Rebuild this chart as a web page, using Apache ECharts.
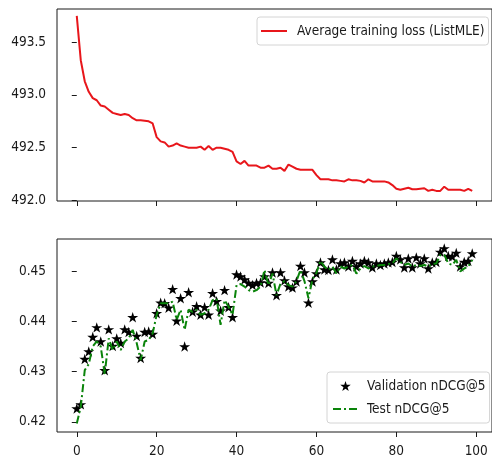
<!DOCTYPE html>
<html style="height: 100%">
<head>
    <meta charset="utf-8">
</head>
<body style="height: 100%; margin: 0; background: #fff">
<div id="container" style="width: 492px; height: 462px"></div>
<script type="text/javascript" src="https://cdn.jsdelivr.net/npm/echarts@6/dist/echarts.min.js"></script>
<script type="text/javascript">
// values, one per epoch (0..99)
var trainLoss = [
    493.75, 493.33, 493.13, 493.03, 492.97, 492.95, 492.90, 492.89, 492.86, 492.83,
    492.82, 492.81, 492.82, 492.81, 492.78, 492.76, 492.76, 492.755, 492.75, 492.73,
    492.60, 492.56, 492.55, 492.51, 492.52, 492.54, 492.52, 492.51, 492.50, 492.50,
    492.50, 492.51, 492.48, 492.515, 492.48, 492.50, 492.50, 492.49, 492.48, 492.46,
    492.37, 492.345, 492.375, 492.33, 492.33, 492.33, 492.31, 492.31, 492.33, 492.30,
    492.30, 492.31, 492.28, 492.34, 492.32, 492.30, 492.29, 492.29, 492.29, 492.29,
    492.24, 492.20, 492.20, 492.20, 492.19, 492.19, 492.185, 492.18, 492.20, 492.19,
    492.19, 492.185, 492.17, 492.20, 492.18, 492.18, 492.18, 492.18, 492.17, 492.145,
    492.11, 492.10, 492.11, 492.12, 492.105, 492.105, 492.11, 492.115, 492.09, 492.10,
    492.09, 492.09, 492.13, 492.10, 492.10, 492.10, 492.10, 492.09, 492.11, 492.09
];

var valNdcg = [
    0.4227, 0.4235, 0.4325, 0.4340, 0.4369, 0.4388, 0.4360, 0.4303, 0.4384, 0.4351,
    0.4366, 0.4357, 0.4384, 0.4379, 0.4408, 0.4371, 0.4327, 0.4379, 0.4380, 0.4375,
    0.4416, 0.4437, 0.4436, 0.4427, 0.4464, 0.4401, 0.4446, 0.4350, 0.4458, 0.4419,
    0.4430, 0.4413, 0.4428, 0.4413, 0.4456, 0.4440, 0.4421, 0.4462, 0.4428, 0.4408,
    0.4493, 0.4489, 0.4483, 0.4476, 0.4472, 0.4476, 0.4477, 0.4489, 0.4476, 0.4497,
    0.4452, 0.4497, 0.4481, 0.4469, 0.4467, 0.4479, 0.4510, 0.4497, 0.4437, 0.4479,
    0.4495, 0.4517, 0.4503, 0.4502, 0.4523, 0.4503, 0.4515, 0.4517, 0.4509, 0.4520,
    0.4509, 0.4515, 0.4520, 0.4517, 0.4507, 0.4515, 0.4512, 0.4515, 0.4517, 0.4518,
    0.4530, 0.4523, 0.4507, 0.4525, 0.4507, 0.4527, 0.4515, 0.4525, 0.4505, 0.4517,
    0.4518, 0.4538, 0.4545, 0.4530, 0.4529, 0.4536, 0.4509, 0.4518, 0.4520, 0.4535
];

var testNdcg = [
    0.4197, 0.4230, 0.4303, 0.4315, 0.4350, 0.4360, 0.4350, 0.4295, 0.4366, 0.4343,
    0.4360, 0.4343, 0.4360, 0.4366, 0.4383, 0.4357, 0.4323, 0.4360, 0.4363, 0.4376,
    0.4413, 0.4436, 0.4436, 0.4436, 0.4439, 0.4403, 0.4423, 0.4383, 0.4423, 0.4419,
    0.4423, 0.4413, 0.4416, 0.4423, 0.4442, 0.4445, 0.4393, 0.4442, 0.4429, 0.4413,
    0.4472, 0.4474, 0.4469, 0.4462, 0.4459, 0.4462, 0.4469, 0.4502, 0.4472, 0.4495,
    0.4452, 0.4475, 0.4480, 0.4472, 0.4469, 0.4480, 0.4502, 0.4480, 0.4446, 0.4483,
    0.4496, 0.4520, 0.4509, 0.4502, 0.4509, 0.4495, 0.4509, 0.4505, 0.4509, 0.4512,
    0.4495, 0.4505, 0.4510, 0.4505, 0.4509, 0.4510, 0.4512, 0.4512, 0.4514, 0.4515,
    0.4525, 0.4518, 0.4512, 0.4515, 0.4509, 0.4512, 0.4510, 0.4512, 0.4509, 0.4514,
    0.4515, 0.4532, 0.4532, 0.4515, 0.4512, 0.4522, 0.4499, 0.4505, 0.4509, 0.4522
];

var xTicks = [0, 20, 40, 60, 80, 100];
var lossTicks = [492.0, 492.5, 493.0, 493.5];
var ndcgTicks = [0.42, 0.43, 0.44, 0.45];

var lossName = 'Average training loss (ListMLE)';
var valName = 'Validation nDCG@5';
var testName = 'Test nDCG@5';

var toPairs = function (values) {
    var res = [];
    for (var i = 0; i < values.length; i++) {
        res.push([i, values[i]]);
    }
    return res;
};

var FONT = '"DejaVu Sans Condensed", "DejaVu Sans", sans-serif';
var INK = '#1a1a1a';
var STAR = 'path://M100,0 L122.45,69.1 L195.1,69.1 L136.33,111.8 L158.8,180.9 L100,138.2 L41.2,180.9 L63.67,111.8 L4.9,69.1 L77.55,69.1 Z';

var xAxisBase = function (gridIndex, showLabels) {
    return {
        type: 'value',
        gridIndex: gridIndex,
        min: -4.95,
        max: 103.95,
        axisLine: {show: false},
        splitLine: {show: false},
        axisTick: {show: true, length: 5, customValues: xTicks, lineStyle: {color: INK}},
        axisLabel: {
            show: showLabels,
            customValues: xTicks,
            margin: 12,
            color: INK,
            fontFamily: FONT,
            fontSize: 13.5
        }
    };
};

var yAxisBase = function (gridIndex, min, max, ticks, digits) {
    return {
        type: 'value',
        gridIndex: gridIndex,
        min: min,
        max: max,
        axisLine: {show: false},
        splitLine: {show: false},
        axisTick: {show: true, length: 5, customValues: ticks, lineStyle: {color: INK}},
        axisLabel: {
            customValues: ticks,
            margin: 11,
            color: INK,
            fontFamily: FONT,
            fontSize: 13.5,
            formatter: function (v) { return v.toFixed(digits); }
        }
    };
};

var dom = document.getElementById('container');
var myChart = echarts.init(dom, null, {renderer: 'canvas'});

var option = {
    animation: false,
    backgroundColor: '#fff',
    grid: [
        {left: 57, right: -7, top: 9, height: 192, show: true, borderColor: INK, borderWidth: 1},
        {left: 57, right: -7, top: 239, height: 193, show: true, borderColor: INK, borderWidth: 1}
    ],
    xAxis: [xAxisBase(0, false), xAxisBase(1, true)],
    yAxis: [
        yAxisBase(0, 491.994, 493.816, lossTicks, 1),
        yAxisBase(1, 0.41801, 0.45636, ndcgTicks, 2)
    ],
    legend: [
        {
            data: [{name: lossName, itemStyle: {opacity: 0}}],
            left: 257,
            top: 17,
            padding: [7, 4, 7, 3],
            itemWidth: 26,
            itemHeight: 12,
            borderColor: '#d4d4d4',
            borderWidth: 1,
            borderRadius: 3,
            backgroundColor: 'rgba(255,255,255,0.8)',
            textStyle: {color: INK, fontFamily: FONT, fontSize: 13.5, padding: [0, 0, 0, 5]}
        },
        {
            data: [{name: valName}, {name: testName, itemStyle: {opacity: 0}}],
            orient: 'vertical',
            left: 327,
            top: 372,
            padding: [7, 4, 7, 5],
            itemGap: 9,
            itemWidth: 25,
            itemHeight: 10,
            borderColor: '#d4d4d4',
            borderWidth: 1,
            borderRadius: 3,
            backgroundColor: 'rgba(255,255,255,0.8)',
            textStyle: {color: INK, fontFamily: FONT, fontSize: 13.5, padding: [0, 0, 0, 4], lineHeight: 14}
        }
    ],
    series: [
        {
            name: lossName,
            type: 'line',
            xAxisIndex: 0,
            yAxisIndex: 0,
            data: toPairs(trainLoss),
            showSymbol: false,
            symbol: 'none',
            lineStyle: {color: '#e8161b', width: 2},
            itemStyle: {color: '#e8161b'}
        },
        {
            name: valName,
            type: 'scatter',
            xAxisIndex: 1,
            yAxisIndex: 1,
            data: toPairs(valNdcg),
            symbol: STAR,
            symbolSize: 11,
            symbolKeepAspect: true,
            itemStyle: {color: '#000', opacity: 1}
        },
        {
            name: testName,
            type: 'line',
            xAxisIndex: 1,
            yAxisIndex: 1,
            data: toPairs(testNdcg),
            showSymbol: false,
            symbol: 'none',
            lineStyle: {color: '#0a840a', width: 2, type: [8, 3, 2, 3]},
            itemStyle: {color: '#0a840a'}
        }
    ]
};

myChart.setOption(option);
</script>
</body>
</html>
